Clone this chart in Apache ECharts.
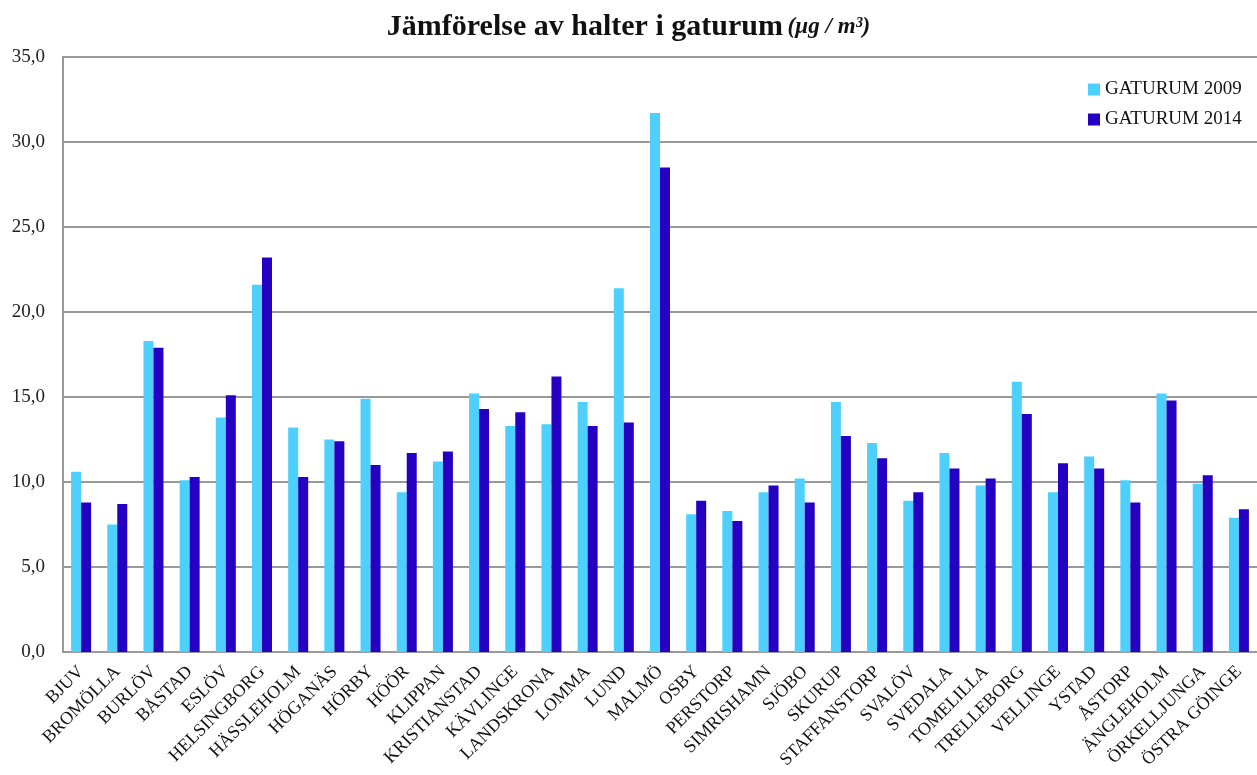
<!DOCTYPE html>
<html>
<head>
<meta charset="utf-8">
<script src="https://cdn.jsdelivr.net/npm/echarts@6/dist/echarts.min.js"></script>
<style>
  html, body { margin: 0; padding: 0; background: #ffffff; }
  #chart { width: 1257px; height: 775px; }
</style>
</head>
<body>
<div id="chart"></div>
<script>
// Kommuner (kategorier)
const categories = [
  'BJUV', 'BROMÖLLA', 'BURLÖV', 'BÅSTAD', 'ESLÖV', 'HELSINGBORG', 'HÄSSLEHOLM',
  'HÖGANÄS', 'HÖRBY', 'HÖÖR', 'KLIPPAN', 'KRISTIANSTAD', 'KÄVLINGE', 'LANDSKRONA',
  'LOMMA', 'LUND', 'MALMÖ', 'OSBY', 'PERSTORP', 'SIMRISHAMN', 'SJÖBO', 'SKURUP',
  'STAFFANSTORP', 'SVALÖV', 'SVEDALA', 'TOMELILLA', 'TRELLEBORG', 'VELLINGE',
  'YSTAD', 'ÅSTORP', 'ÄNGLEHOLM', 'ÖRKELLJUNGA', 'ÖSTRA GÖINGE'
];

// Halter i gaturum 2009 (µg/m³)
const gaturum2009 = [
  10.6, 7.5, 18.3, 10.1, 13.8, 21.6, 13.2,
  12.5, 14.9, 9.4, 11.2, 15.2, 13.3, 13.4,
  14.7, 21.4, 31.7, 8.1, 8.3, 9.4, 10.2, 14.7,
  12.3, 8.9, 11.7, 9.8, 15.9, 9.4,
  11.5, 10.1, 15.2, 9.9, 7.9
];

// Halter i gaturum 2014 (µg/m³)
const gaturum2014 = [
  8.8, 8.7, 17.9, 10.3, 15.1, 23.2, 10.3,
  12.4, 11.0, 11.7, 11.8, 14.3, 14.1, 16.2,
  13.3, 13.5, 28.5, 8.9, 7.7, 9.8, 8.8, 12.7,
  11.4, 9.4, 10.8, 10.2, 14.0, 11.1,
  10.8, 8.8, 14.8, 10.4, 8.4
];

// Värdeaxelns indelning
const yMin = 0;
const yMax = 35;
const yStep = 5;

const seriesNames = ['GATURUM 2009', 'GATURUM 2014'];
const seriesColors = ['#4DD0FE', '#2600C2'];

const serif = '"Liberation Serif", "Times New Roman", serif';

const chart = echarts.init(document.getElementById('chart'), null, { renderer: 'canvas' });

chart.setOption({
  backgroundColor: '#ffffff',
  animation: false,
  textStyle: { fontFamily: serif },
  title: {
    text: '{a|Jämförelse av halter i gaturum} {b|(µg / m³)}',
    left: 'center',
    top: 7,
    textStyle: {
      rich: {
        a: { fontFamily: serif, fontSize: 30, fontWeight: 'bold', color: '#111111' },
        b: { fontFamily: serif, fontSize: 23, fontWeight: 'bold', fontStyle: 'italic', color: '#111111' }
      }
    }
  },
  legend: {
    orient: 'vertical',
    left: 1083,
    top: 75,
    itemWidth: 12,
    itemHeight: 12,
    itemGap: 11,
    icon: 'rect',
    data: seriesNames,
    textStyle: { fontFamily: serif, fontSize: 19, color: '#111111' }
  },
  grid: {
    left: 63,
    top: 57,
    bottom: 123,
    width: 1208,
    containLabel: false
  },
  xAxis: {
    type: 'category',
    data: categories,
    axisLine: { show: true, lineStyle: { color: '#999999', width: 2 } },
    axisTick: { show: false },
    axisLabel: {
      rotate: 45,
      interval: 0,
      margin: 17,
      fontFamily: serif,
      fontSize: 18,
      color: '#111111'
    }
  },
  yAxis: {
    type: 'value',
    min: yMin,
    max: yMax,
    interval: yStep,
    axisLine: { show: true, lineStyle: { color: '#999999', width: 2 } },
    axisTick: { show: false },
    splitLine: { show: true, lineStyle: { color: '#999999', width: 2 } },
    axisLabel: {
      margin: 18,
      fontFamily: serif,
      fontSize: 19,
      color: '#222222',
      formatter: v => v.toFixed(1).replace('.', ',')
    }
  },
  series: [
    {
      name: seriesNames[0],
      type: 'bar',
      data: gaturum2009,
      barWidth: 10,
      barGap: '0%',
      itemStyle: { color: seriesColors[0] }
    },
    {
      name: seriesNames[1],
      type: 'bar',
      data: gaturum2014,
      barWidth: 10,
      barGap: '0%',
      itemStyle: { color: seriesColors[1] }
    }
  ]
});
</script>
</body>
</html>
